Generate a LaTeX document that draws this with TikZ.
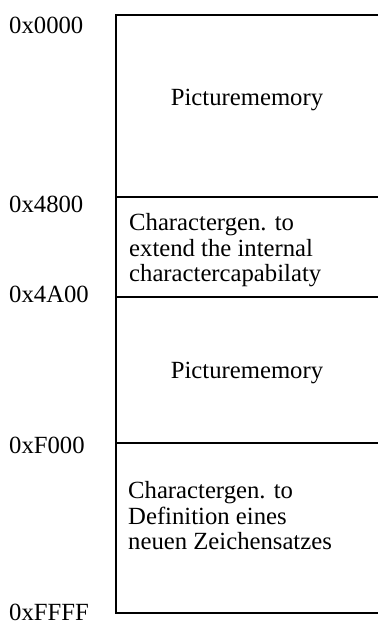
\documentclass[tikz,border=0pt]{standalone}
\usepackage{fontspec}
\setmainfont{Liberation Serif}
\begin{document}
\begin{tikzpicture}[x=1pt,y=-1pt,
  lbl/.style={anchor=base west,inner sep=0pt,font=\fontsize{24.7}{25.8}\selectfont},
  txt/.style={anchor=north west,inner sep=0pt,align=left,font=\fontsize{24.7}{25.8}\selectfont},
  ctr/.style={anchor=base,inner sep=0pt,font=\fontsize{24.7}{25.8}\selectfont},
  memline/.style={line width=1.1pt}]
\useasboundingbox (0,0) rectangle (378,621);
% structure corners
\coordinate (tl) at (116,15);
\coordinate (tr) at (378,15);
\coordinate (bl) at (116,613);
\coordinate (br) at (378,613);
\coordinate (l1) at (116,197);
\coordinate (r1) at (378,197);
\coordinate (l2) at (116,297);
\coordinate (r2) at (378,297);
\coordinate (l3) at (116,443);
\coordinate (r3) at (378,443);
\draw[memline] (tr) -- (tl) -- (bl) -- (br);
\draw[memline] (l1) -- (r1);
\draw[memline] (l2) -- (r2);
\draw[memline] (l3) -- (r3);
% address labels
\node[lbl] (a0) at (9,33) {0x0000};
\node[lbl] (a1) at (9,212) {0x4800};
\node[lbl] (a2) at (9,302) {0x4A00};
\node[lbl] (a3) at (9,453) {0xF000};
\node[lbl] (a4) at (9,620) {0xFFFF};
% contents
\node[ctr] (m1) at (247,105) {Picturememory};
\node[txt] (c1) at (129,213) {Charactergen. to\\extend the internal\\charactercapabilaty};
\node[ctr] (m2) at (247,378) {Picturememory};
\node[txt] (c2) at (128,481) {Charactergen. to\\Definition eines\\neuen Zeichensatzes};
\end{tikzpicture}
\end{document}
